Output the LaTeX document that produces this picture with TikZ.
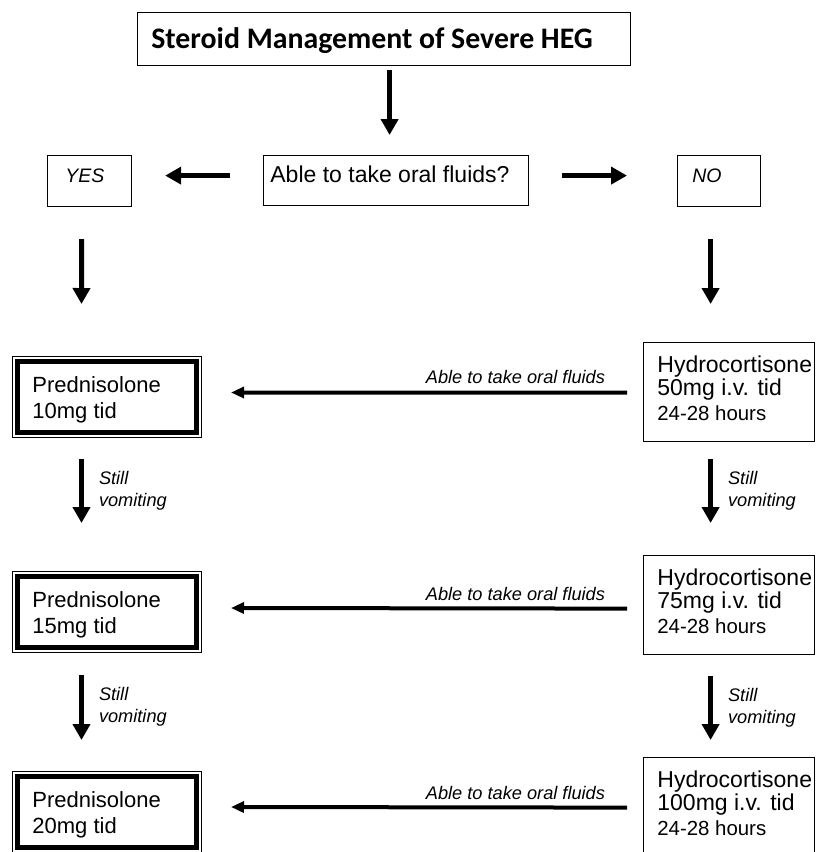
\documentclass[tikz,border=0pt]{standalone}
\usepackage{fontspec}
\setmainfont{Liberation Sans}
\newfontfamily\titlefont{Carlito}
\usetikzlibrary{arrows.meta,positioning}

\begin{document}
\begin{tikzpicture}[x=0.5pt,y=-0.5pt]

\def\u{0.5pt}
\def\asep{33}

\tikzstyle{tbox} = [draw,line width=0.6pt,inner sep=0pt,anchor=north west];
\tikzstyle{pbox} = [draw,line width=0.5pt,inner sep=0pt,anchor=north west,minimum width=189*\u,minimum height=81*\u];
\tikzstyle{hbox} = [draw,line width=0.6pt,inner sep=0pt,anchor=north west,minimum width=170.5*\u,minimum height=99*\u];
\tikzstyle{ptext} = [anchor=base west,inner sep=0pt,font=\fontsize{11}{13}\selectfont];
\tikzstyle{htext} = [anchor=base west,inner sep=0pt,font=\fontsize{11.5}{13}\selectfont];
\tikzstyle{hsmall} = [anchor=base west,inner sep=0pt,font=\fontsize{10.2}{12}\selectfont];
\tikzstyle{itext} = [inner sep=0pt,font=\fontsize{9.1}{11}\selectfont\itshape];
\tikzstyle{bigarrow} = [line width=2.5pt,-{Triangle[length=8pt,width=8.5pt]}];
\tikzstyle{midarrow} = [line width=2pt,-{Triangle[length=6.5pt,width=5.5pt]}];

\useasboundingbox (0,0) rectangle (815,852);

% title and question
\node [tbox,minimum width=493*\u,minimum height=53*\u] (title) at (137,12) {};
\node [anchor=base west,inner sep=0pt,font=\titlefont\bfseries\fontsize{14.9}{18}\selectfont] (titletext) at ([xshift=14*\u,yshift=-36*\u]title.north west) {Steroid Management of Severe HEG};

\node [tbox,minimum width=265*\u,minimum height=50*\u] (ask) at (263,155) {};
\node [anchor=base west,inner sep=0pt,font=\fontsize{11.5}{13}\selectfont] (asktext) at ([xshift=7*\u,yshift=-27*\u]ask.north west) {Able to take oral fluids?};

\node [tbox,minimum width=84*\u,minimum height=51*\u] (yes) at (47,155) {};
\node [itext,anchor=base west,font=\fontsize{9.75}{11}\selectfont\itshape] (yestext) at ([xshift=18*\u,yshift=-27*\u]yes.north west) {YES};

\node [tbox,minimum width=83*\u,minimum height=51*\u] (no) at (677,155) {};
\node [itext,anchor=base west,font=\fontsize{9.75}{11}\selectfont\itshape] (notext) at ([xshift=15*\u,yshift=-27*\u]no.north west) {NO};

\draw [bigarrow] ([xshift=5.5*\u,yshift=-4*\u]title.south) -- ([xshift=-6.5*\u,yshift=20*\u]ask.north);
\draw [bigarrow] ([xshift=-\asep*\u,yshift=5*\u]ask.west) -- ([xshift=\asep*\u,yshift=5.5*\u]yes.east);
\draw [bigarrow] ([xshift=\asep*\u,yshift=5*\u]ask.east) -- ([xshift=-50*\u,yshift=5.5*\u]no.west);

% prednisolone column
\node [pbox] (pred1) at (11.5,355.5) {};
\node [pbox] (pred2) at (11.5,570.5) {};
\node [pbox] (pred3) at (11.5,770.5) {};

\draw [line width=2.5pt] ([xshift=5.5*\u,yshift=-5.5*\u]pred1.north west) rectangle ([xshift=-5.5*\u,yshift=5.5*\u]pred1.south east);
\draw [line width=2.5pt] ([xshift=5.5*\u,yshift=-5.5*\u]pred2.north west) rectangle ([xshift=-5.5*\u,yshift=5.5*\u]pred2.south east);
\draw [line width=2.5pt] ([xshift=5.5*\u,yshift=-5.5*\u]pred3.north west) rectangle ([xshift=-5.5*\u,yshift=5.5*\u]pred3.south east);

\node [ptext] (pred1a) at ([xshift=20.5*\u,yshift=-36.5*\u]pred1.north west) {Prednisolone};
\node [ptext] (pred1b) at ([xshift=20.5*\u,yshift=-62.5*\u]pred1.north west) {10mg tid};
\node [ptext] (pred2a) at ([xshift=20.5*\u,yshift=-36.5*\u]pred2.north west) {Prednisolone};
\node [ptext] (pred2b) at ([xshift=20.5*\u,yshift=-62.5*\u]pred2.north west) {15mg tid};
\node [ptext] (pred3a) at ([xshift=20.5*\u,yshift=-36.5*\u]pred3.north west) {Prednisolone};
\node [ptext] (pred3b) at ([xshift=20.5*\u,yshift=-62.5*\u]pred3.north west) {20mg tid};

% hydrocortisone column
\node [hbox] (hydro1) at (643,342) {};
\node [hbox] (hydro2) at (643,555) {};
\node [hbox] (hydro3) at (643,757) {};

\node [htext] (hydro1a) at ([xshift=14*\u,yshift=-30*\u]hydro1.north west) {Hydrocortisone};
\node [htext] (hydro1b) at ([xshift=14*\u,yshift=-53*\u]hydro1.north west) {50mg i.v. tid};
\node [hsmall] (hydro1c) at ([xshift=14*\u,yshift=-78*\u]hydro1.north west) {24-28 hours};
\node [htext] (hydro2a) at ([xshift=14*\u,yshift=-30*\u]hydro2.north west) {Hydrocortisone};
\node [htext] (hydro2b) at ([xshift=14*\u,yshift=-53*\u]hydro2.north west) {75mg i.v. tid};
\node [hsmall] (hydro2c) at ([xshift=14*\u,yshift=-78*\u]hydro2.north west) {24-28 hours};
\node [htext] (hydro3a) at ([xshift=14*\u,yshift=-30*\u]hydro3.north west) {Hydrocortisone};
\node [htext] (hydro3b) at ([xshift=14*\u,yshift=-53*\u]hydro3.north west) {100mg i.v. tid};
\node [hsmall] (hydro3c) at ([xshift=14*\u,yshift=-78*\u]hydro3.north west) {24-28 hours};

% into the columns
\draw [bigarrow] ([xshift=-8*\u,yshift=-32*\u]yes.south) -- ([xshift=-25*\u,yshift=51.5*\u]pred1.north);
\draw [bigarrow] ([xshift=-8.5*\u,yshift=-32*\u]no.south) -- ([xshift=-18.25*\u,yshift=38*\u]hydro1.north);

% still vomiting
\draw [bigarrow] ([xshift=-25*\u,yshift=-21.5*\u]pred1.south) -- ([xshift=-25*\u,yshift=47.5*\u]pred2.north)
  node [itext,pos=0,anchor=base west,xshift=15*\u,yshift=-25*\u] (still1) {Still}
  node [itext,pos=0,anchor=base west,xshift=15*\u,yshift=-47*\u] (vomit1) {vomiting};
\draw [bigarrow] ([xshift=-25*\u,yshift=-22.5*\u]pred2.south) -- ([xshift=-25*\u,yshift=30.5*\u]pred3.north)
  node [itext,pos=0,anchor=base west,xshift=15*\u,yshift=-25*\u] (still2) {Still}
  node [itext,pos=0,anchor=base west,xshift=15*\u,yshift=-47*\u] (vomit2) {vomiting};
\draw [bigarrow] ([xshift=-18.25*\u,yshift=-17*\u]hydro1.south) -- ([xshift=-18.25*\u,yshift=32*\u]hydro2.north)
  node [itext,pos=0,anchor=base west,xshift=15*\u,yshift=-25*\u] (still3) {Still}
  node [itext,pos=0,anchor=base west,xshift=15*\u,yshift=-47*\u] (vomit3) {vomiting};
\draw [bigarrow] ([xshift=-18.25*\u,yshift=-21*\u]hydro2.south) -- ([xshift=-18.25*\u,yshift=17*\u]hydro3.north)
  node [itext,pos=0,anchor=base west,xshift=15*\u,yshift=-25*\u] (still4) {Still}
  node [itext,pos=0,anchor=base west,xshift=15*\u,yshift=-47*\u] (vomit4) {vomiting};

% able to take oral fluids
\draw [midarrow] ([xshift=-16*\u,yshift=-0.5*\u]hydro1.west) -- ([xshift=29.5*\u,yshift=4*\u]pred1.east)
  node [itext,pos=0,anchor=base east,xshift=-20*\u,yshift=9*\u] (fluids1) {Able to take oral fluids};
\draw [midarrow] ([xshift=-16*\u,yshift=-3.5*\u]hydro2.west) -- ([xshift=29.5*\u,yshift=3.5*\u]pred2.east)
  node [itext,pos=0,anchor=base east,xshift=-20*\u,yshift=8*\u] (fluids2) {Able to take oral fluids};
\draw [midarrow] ([xshift=-16*\u,yshift=-0.5*\u]hydro3.west) -- ([xshift=29.5*\u,yshift=4.5*\u]pred3.east)
  node [itext,pos=0,anchor=base east,xshift=-20*\u,yshift=8*\u] (fluids3) {Able to take oral fluids};

\end{tikzpicture}
\end{document}
